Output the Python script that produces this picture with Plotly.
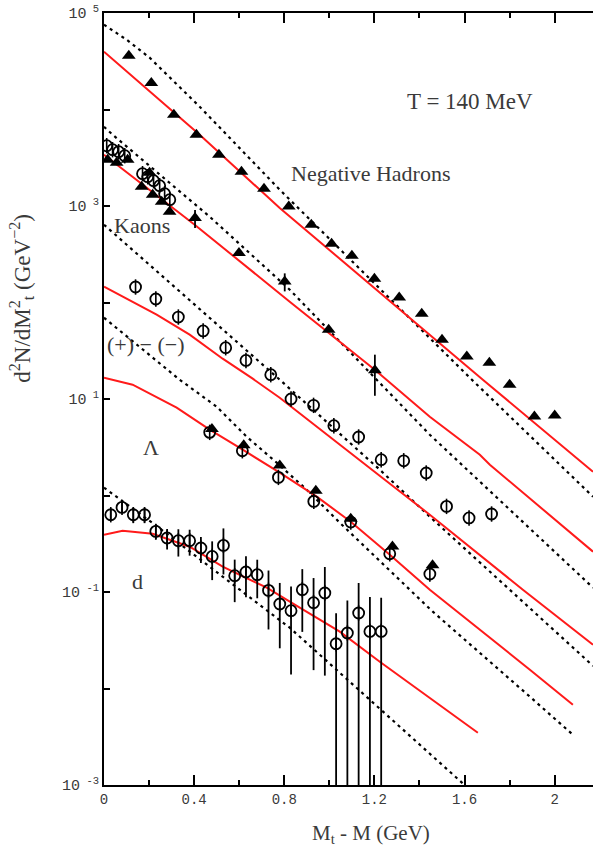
import plotly.graph_objects as go

# ---------------- data ----------------
# Negative hadrons (filled triangles)
nh_x = [0.11, 0.21, 0.31, 0.41, 0.51, 0.61, 0.71, 0.82, 0.92, 1.01, 1.10, 1.20,
        1.31, 1.41, 1.50, 1.61, 1.71, 1.80, 1.91, 2.00]
nh_y = [36100, 18820, 8834, 5482, 3401, 2267, 1511, 990.6, 640, 406.7, 305.5, 176.4,
        112.9, 76.5, 41.2, 27.6, 23.8, 14.07, 6.60, 6.76]

# Kaons: triangles and circles
kp_x = [0.016, 0.056, 0.105, 0.167, 0.202, 0.216, 0.256, 0.291, 0.404, 0.599, 0.802, 0.997, 1.202]
kp_y = [3018, 2810, 3018, 1585, 2214, 1310, 1108, 873, 751, 326, 165.4, 52.3, 19.8]
kp_err = [0, 0, 0, 0, 0, 0, 0, 0, 158, 0, 35, 0, 9.0]
km_x = [0.012, 0.038, 0.065, 0.092, 0.171, 0.194, 0.220, 0.247, 0.269, 0.292]
km_y = [4216, 3832, 3654, 3321, 2161, 2012, 1829, 1623, 1341, 1162]

# (+) - (-) circles
pm_x = [0.14, 0.23, 0.33, 0.44, 0.54, 0.63, 0.74, 0.83, 0.93, 1.02, 1.13, 1.23,
        1.33, 1.43, 1.52, 1.62, 1.72]
pm_y = [144.7, 108.7, 70.7, 50.7, 34.0, 25.1, 17.86, 10.0, 8.59, 5.29, 4.04, 2.35,
        2.29, 1.71, 0.771, 0.585, 0.643]

# Lambda: triangles and circles
la_x = [0.479, 0.620, 0.780, 0.940, 1.095, 1.280, 1.458]
la_y = [4.89, 3.31, 2.05, 1.12, 0.575, 0.297, 0.189]
al_x = [0.469, 0.614, 0.774, 0.931, 1.095, 1.268, 1.446]
al_y = [4.51, 2.91, 1.54, 0.869, 0.531, 0.249, 0.1536]

# deuterons (circles with error bars)
d_x = [0.03, 0.08, 0.13, 0.18, 0.23, 0.28, 0.33, 0.38, 0.43, 0.48, 0.53, 0.58, 0.63,
       0.68, 0.73, 0.78, 0.83, 0.88, 0.93, 0.98, 1.03, 1.08, 1.13, 1.18, 1.23]
d_y = [0.632, 0.753, 0.632, 0.632, 0.4246, 0.3627, 0.340, 0.340, 0.2858, 0.2338, 0.3040,
       0.1475, 0.1612, 0.1511, 0.1039, 0.0751, 0.0640, 0.1056, 0.0775, 0.0976, 0.0291,
       0.0376, 0.0606, 0.0390, 0.0390]
d_err = [0.080, 0.096, 0.115, 0.115, 0.077, 0.087, 0.107, 0.102, 0.086, 0.101, 0.152,
         0.069, 0.073, 0.065, 0.063, 0.049, 0.050, 0.067, 0.062, 0.084, 0.031, 0.044,
         0.063, 0.050, 0.048]

# model curves: red solid and black dotted
red_nh_x = [0, 0.4245, 0.7798, 1.6812, 2.17]
red_nh_y = [39720, 5482, 953.5, 15.85, 1.765]
dot_nh_x = [0, 0.1004, 0.2025, 0.4245, 0.7798, 1.6324, 2.17]
dot_nh_y = [75660, 52880, 34420, 10690, 1475.6, 15.85, 0.972]

red_k_x = [0, 0.4023, 0.8242, 1.2016, 1.4458, 1.6679, 1.7123, 2.17]
red_k_y = [3401, 640, 101.9, 20.12, 6.555, 2.647, 2.085, 0.2617]
dot_k_x = [0, 0.0382, 0.4689, 0.8242, 1.4458, 2.17]
dot_k_y = [6633, 5482, 774.6, 135.7, 4.266, 0.1108]

red_pm_x = [0, 0.2336, 0.3801, 0.5266, 0.6599, 0.7798, 1.2460, 1.4458, 1.8588, 2.17]
red_pm_y = [145.8, 74.74, 46.38, 26.16, 16.23, 10.31, 1.458, 0.6324, 0.1056, 0.02844]
dot_pm_x = [0, 0.7798, 1.2238, 1.4458, 1.7922, 2.17]
dot_pm_y = [640, 15.85, 1.851, 0.6030, 0.1099, 0.01715]

red_la_x = [0, 0.1270, 0.3224, 0.4689, 0.6155, 0.7798, 0.9440, 1.0950, 1.2682, 1.4458, 1.8899, 2.0808]
red_la_y = [16.62, 14.07, 8.124, 4.807, 2.983, 1.723, 0.972, 0.5354, 0.2435, 0.1056, 0.01566, 0.006795]
dot_la_x = [0, 0.3357, 0.5, 0.6332, 0.7664, 0.8996, 1.0462, 1.4591, 1.8899, 2.0808]
dot_la_y = [69.57, 15.85, 8.32, 4.067, 2.187, 1.148, 0.5227, 0.06249, 0.008222, 0.003320]

red_d_x = [0, 0.0826, 0.2158, 0.3801, 0.5266, 0.7220, 0.8686, 1.0462, 1.2238, 1.4458, 1.6590]
red_d_y = [0.3925, 0.4318, 0.4019, 0.2946, 0.1829, 0.1108, 0.06876, 0.03879, 0.01895, 0.008029, 0.003483]
dot_d_x = [0, 0.2336, 0.5266, 0.8242, 1.6]
dot_d_y = [1.204, 0.4831, 0.1440, 0.04266, 0.001]

x_ticks = [0, 0.4, 0.8, 1.2, 1.6, 2]
x_ticktext = ["0", "0.4", "0.8", "1.2", "1.6", "2"]
x_minor = [0.2, 0.6, 1.0, 1.4, 1.8]
y_ticks = [1e-3, 1e-1, 1e1, 1e3, 1e5]
y_ticktext = ["10<sup> -3</sup>", "10<sup> -1</sup>", "10<sup> 1</sup>", "10<sup> 3</sup>", "10<sup> 5</sup>"]
y_minor = [1e-2, 1, 1e2, 1e4]

# ---------------- figure ----------------
RED = "#ff1a1a"
fig = go.Figure()

def red(x, y):
    fig.add_trace(go.Scatter(x=x, y=y, mode="lines", line=dict(color=RED, width=2)))

def dot(x, y):
    fig.add_trace(go.Scatter(x=x, y=y, mode="lines",
                             line=dict(color="black", width=2.2, dash="3px,4px")))

for rx, ry, dx, dy in [(red_nh_x, red_nh_y, dot_nh_x, dot_nh_y),
                       (red_k_x, red_k_y, dot_k_x, dot_k_y),
                       (red_pm_x, red_pm_y, dot_pm_x, dot_pm_y),
                       (red_la_x, red_la_y, dot_la_x, dot_la_y),
                       (red_d_x, red_d_y, dot_d_x, dot_d_y)]:
    dot(dx, dy)
    red(rx, ry)

def circles(x, y, err=None):
    kw = {}
    if err is not None:
        kw["error_y"] = dict(type="data", array=err, visible=True, color="black",
                             thickness=1.8, width=0)
    fig.add_trace(go.Scatter(x=x, y=y, mode="markers",
                             marker=dict(symbol="circle-open", size=11, color="black",
                                         line=dict(width=1.8, color="black")), **kw))
    fig.add_trace(go.Scatter(x=x, y=y, mode="markers",
                             marker=dict(symbol="line-ns-open", size=11, color="black",
                                         line=dict(width=1.6, color="black"))))

def triangles(x, y, err=None):
    kw = {}
    if err is not None:
        kw["error_y"] = dict(type="data", array=err, visible=True, color="black",
                             thickness=1.8, width=0)
    fig.add_trace(go.Scatter(x=x, y=y, mode="markers",
                             marker=dict(symbol="triangle-up", size=12, color="black",
                                         line=dict(width=0)), **kw))

triangles(nh_x, nh_y)
circles(km_x, km_y)
triangles(kp_x, kp_y, kp_err)
circles(pm_x, pm_y)
circles(al_x, al_y)
triangles(la_x, la_y)
circles(d_x, d_y, d_err)

TXT = "#3a3a3a"
SERIF = "Liberation Serif, DejaVu Serif, serif"
ann = [
    dict(text="T = 140 MeV", x=0.7485, y=0.886, size=23),
    dict(text="Negative Hadrons", x=0.546, y=0.7927, size=22),
    dict(text="Kaons", x=0.0777, y=0.7241, size=22),
    dict(text="(+) − (−)", x=0.0859, y=0.570, size=22),
    dict(text="Λ", x=0.0961, y=0.4378, size=22),
    dict(text="d", x=0.0695, y=0.263, size=22),
]
for a in ann:
    fig.add_annotation(text=a["text"], x=a["x"], y=a["y"], xref="paper", yref="paper",
                       showarrow=False, xanchor="center", yanchor="middle",
                       font=dict(family=SERIF, size=a["size"], color=TXT))

fig.add_annotation(text="d<sup>2</sup>N/dM<sup>2</sup><sub>t</sub> (GeV<sup>−2</sup>)",
                   x=-0.168, y=0.631, xref="paper", yref="paper", textangle=-90,
                   xanchor="center", yanchor="middle",
                   showarrow=False, font=dict(family=SERIF, size=23, color=TXT))
fig.add_annotation(text="M<sub>t</sub> - M (GeV)", x=0.545, y=-0.064, xref="paper",
                   yref="paper", showarrow=False, xanchor="center", yanchor="middle",
                   font=dict(family=SERIF, size=21, color=TXT))

fig.update_layout(
    width=593, height=862, showlegend=False,
    margin=dict(l=104, r=0, t=13, b=77),
    paper_bgcolor="white", plot_bgcolor="white",
    xaxis=dict(range=[0, 2.17], tickvals=x_ticks, ticktext=x_ticktext,
               ticks="inside", ticklen=10, tickwidth=1.5, tickcolor="black",
               showline=True, linewidth=2, linecolor="black", mirror="ticks",
               showgrid=False, zeroline=False,
               minor=dict(tickvals=x_minor, ticks="inside", ticklen=5, tickwidth=1.5,
                          tickcolor="black", showgrid=False),
               tickfont=dict(family="Liberation Mono, DejaVu Sans Mono, monospace",
                             size=14, color=TXT)),
    yaxis=dict(type="log", range=[-3, 5], tickvals=y_ticks, ticktext=y_ticktext,
               ticks="inside", ticklen=6, tickwidth=1.5, tickcolor="black",
               showline=True, linewidth=2, linecolor="black",
               showgrid=False, zeroline=False,
               minor=dict(tickvals=y_minor, ticks="inside", ticklen=6, tickwidth=1.5,
                          tickcolor="black", showgrid=False),
               tickfont=dict(family="Liberation Mono, DejaVu Sans Mono, monospace",
                             size=15, color=TXT)),
)

fig.write_html("out.html", config={"displayModeBar": False})
